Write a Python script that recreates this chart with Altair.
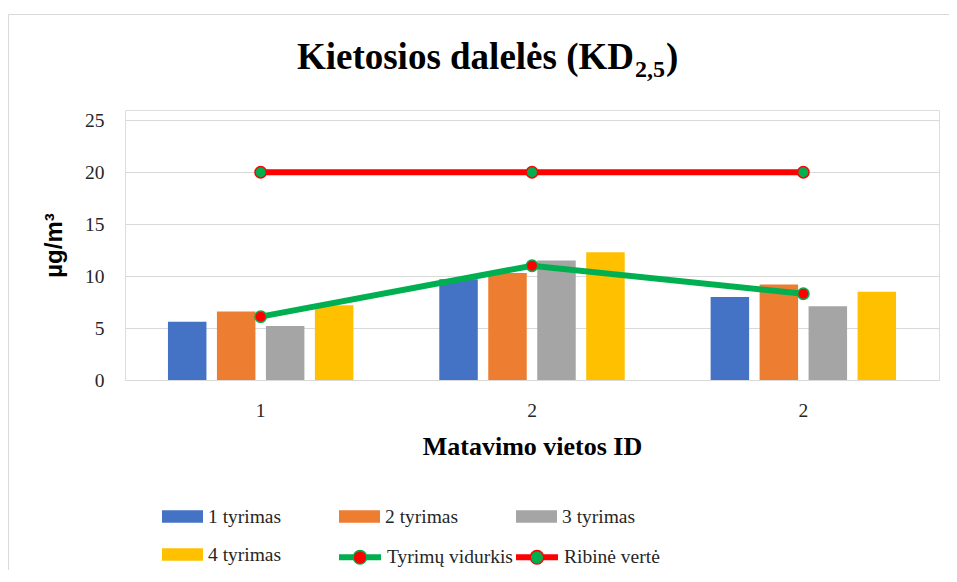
import json
import altair as alt
import pandas as pd

# ---------------- data ----------------
locations = ["1", "2", "2"]
tests = ["1 tyrimas", "2 tyrimas", "3 tyrimas", "4 tyrimas"]
test1 = [5.6, 9.7, 8.0]
test2 = [6.6, 10.3, 9.2]
test3 = [5.2, 11.5, 7.1]
test4 = [7.2, 12.3, 8.5]
average = [6.1, 11.0, 8.3]
limit = [20, 20, 20]
line_series = ["Tyrimų vidurkis", "Ribinė vertė"]
y_ticks = [0, 5, 10, 15, 20, 25]
title_main = "Kietosios dalelės (KD"
title_sub = "2,5"
title_end = ")"

bar_colors = ["#4472C4", "#ED7D31", "#A5A5A5", "#FFC000"]
GREEN = "#00B050"
RED = "#FF0000"
GRID = "#D9D9D9"
SERIF = "Liberation Serif"
TXT = "#262626"

bar_rows = []
for t, vals in zip(tests, [test1, test2, test3, test4]):
    for i, v in enumerate(vals):
        bar_rows.append({"loc": i, "test": t, "value": v})
bars_df = pd.DataFrame(bar_rows)

line_rows = []
for s, vals in zip(line_series, [average, limit]):
    for i, v in enumerate(vals):
        line_rows.append({"loc": i, "series": s, "series_pt": s, "value": v})
lines_df = pd.DataFrame(line_rows)

one = pd.DataFrame({"k": [0]})

W, H = 814, 270

x_enc = alt.X(
    "loc:O",
    scale=alt.Scale(paddingInner=0.278, paddingOuter=0.139),
    title="Matavimo vietos ID",
    axis=alt.Axis(
        labelExpr=f"{json.dumps(locations)}[datum.value]",
        labelAngle=0,
        labelFont=SERIF,
        labelFontSize=19.5,
        labelColor=TXT,
        labelPadding=21,
        ticks=False,
        domain=True,
        domainColor=GRID,
        domainWidth=1,
        grid=False,
        titleFont=SERIF,
        titleFontSize=26,
        titleFontWeight="bold",
        titleColor="black",
        titleBaseline="middle",
        titleY=66,
    ),
)
y_enc = alt.Y(
    "value:Q",
    scale=alt.Scale(domain=[0, 25]),
    title="µg/m³",
    axis=alt.Axis(
        values=y_ticks,
        labelFont=SERIF,
        labelFontSize=19.5,
        labelColor=TXT,
        labelPadding=21,
        ticks=False,
        domain=False,
        grid=True,
        gridColor=GRID,
        gridWidth=1,
        titleFont="Liberation Sans",
        titleFontSize=24,
        titleFontWeight="bold",
        titleColor="black",
        titleBaseline="middle",
        titleX=-71,
        titleY=135,
    ),
)

bars = alt.Chart(bars_df).mark_bar().encode(
    x=x_enc,
    xOffset=alt.XOffset("test:N", scale=alt.Scale(domain=tests, paddingInner=0.214, paddingOuter=0.107)),
    y=y_enc,
    color=alt.Color(
        "test:N",
        scale=alt.Scale(domain=tests, range=bar_colors),
        legend=alt.Legend(
            orient="none", legendX=37, legendY=386, columns=3, columnPadding=57,
            rowPadding=8, gridAlign="all", direction="horizontal", title=None, padding=0,
            symbolType="M-1,-0.3H1V0.3H-1Z", symbolSize=1681, symbolStrokeWidth=0,
            symbolOpacity=1, labelFont=SERIF, labelFontSize=19.5, labelColor=TXT,
            labelOffset=5,
        ),
    ),
)

line_legend_path = ("M-1,0H-0.214M0.214,0H1M0.214,0A0.214,0.214,0,1,1,-0.214,0"
                    "A0.214,0.214,0,1,1,0.214,0")
dot_legend_path = ("M-1,0L-1,0M1,0L1,0M0.286,0A0.286,0.286,0,1,1,-0.286,0"
                   "A0.286,0.286,0,1,1,0.286,0Z")

common_leg = dict(
    orient="none", legendX=211, legendY=423, columns=2, columnPadding=-12,
    rowPadding=0, gridAlign="all", direction="horizontal", title=None, padding=0,
    symbolSize=1764, symbolStrokeWidth=6, symbolOpacity=1, labelFont=SERIF,
    labelFontSize=19.5, labelOffset=3,
)

lines = alt.Chart(lines_df).mark_line(strokeWidth=6).encode(
    x="loc:O",
    y="value:Q",
    stroke=alt.Stroke(
        "series:N",
        scale=alt.Scale(domain=line_series, range=[GREEN, RED]),
        legend=alt.Legend(symbolType=line_legend_path, labelColor=TXT, **common_leg),
    ),
    detail="series:N",
)

points = alt.Chart(lines_df).mark_point(filled=True, size=130, strokeWidth=1.5, opacity=1).encode(
    x="loc:O",
    y="value:Q",
    fill=alt.Fill(
        "series_pt:N",
        sort=None,
        scale=alt.Scale(range=[RED, GREEN]),
        legend=alt.Legend(symbolType=dot_legend_path, labelOpacity=0,
                          symbolStrokeColor="transparent", zindex=2, **common_leg),
    ),
    stroke=alt.Stroke("series:N", legend=None),
)

border = alt.Chart(one).mark_rect(
    fill="transparent", stroke=GRID, strokeWidth=1
).encode(
    x=alt.value(-116.5), y=alt.value(-95.5), x2=alt.value(860), y2=alt.value(500)
)

t_main = alt.Chart(one).mark_text(
    font=SERIF, fontSize=37, fontWeight="bold", color="black", align="right", baseline="alphabetic"
).encode(x=alt.value(509), y=alt.value(-41), text=alt.value(title_main))
t_sub = alt.Chart(one).mark_text(
    font=SERIF, fontSize=24, fontWeight="bold", color="black", align="left", baseline="alphabetic"
).encode(x=alt.value(510), y=alt.value(-33), text=alt.value(title_sub))
t_end = alt.Chart(one).mark_text(
    font=SERIF, fontSize=37, fontWeight="bold", color="black", align="left", baseline="alphabetic"
).encode(x=alt.value(541), y=alt.value(-41), text=alt.value(title_end))

chart = alt.layer(border, bars, lines, points, t_main, t_sub, t_end).properties(
    width=W,
    height=H,
    autosize="none",
    padding={"left": 117, "top": 102, "right": 10, "bottom": 190},
).configure_view(stroke=None).configure(background="white")

chart.save("out.html", embed_options={"renderer": "svg", "actions": False})
